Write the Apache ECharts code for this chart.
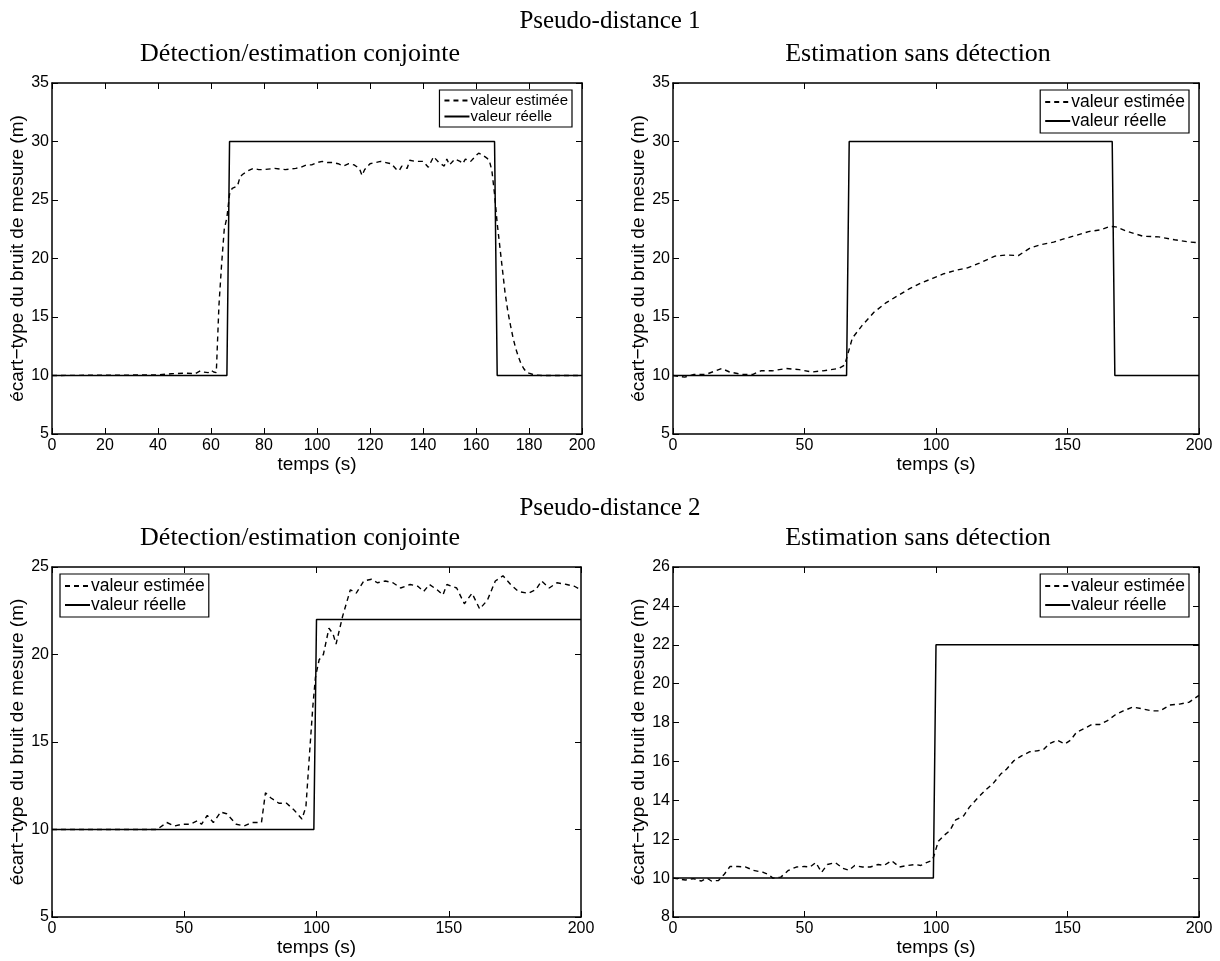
<!DOCTYPE html>
<html>
<head>
<meta charset="utf-8">
<script src="https://cdn.jsdelivr.net/npm/echarts@6/dist/echarts.min.js"></script>
<style>
  html, body { margin: 0; padding: 0; background: #fff; }
  #chart { width: 1220px; height: 961px; }
</style>
</head>
<body>
<div id="chart"></div>
<script>
// Pseudo-distance 1 - détection/estimation conjointe
const p1ConjTemps = [0, 40, 45, 50, 54, 56, 57, 59, 60, 61, 62, 63, 64, 65, 66, 67, 68, 70, 71, 72, 74, 76, 78, 80, 84, 88, 92, 94, 96, 98, 100, 102, 104, 106, 108, 110, 112, 114, 116, 117, 118, 120, 122, 124, 126, 128, 130, 131, 132, 133, 134, 135, 137, 140, 142, 144, 146, 148, 149, 150, 152, 154, 155, 156, 158, 160, 161, 162, 164, 165, 166, 167, 168, 169, 170, 171, 172, 173, 174, 175, 176, 177, 178, 179, 180, 182, 185, 200]
const p1ConjEstimee = [10, 10.05, 10.15, 10.2, 10.15, 10.4, 10.3, 10.25, 10.45, 10.3, 10.25, 16, 19.5, 22.5, 23.5, 25.5, 26, 26.2, 27, 27.2, 27.5, 27.7, 27.6, 27.6, 27.7, 27.6, 27.7, 27.8, 28, 28, 28.2, 28.3, 28.2, 28.2, 28.1, 27.9, 28.1, 28, 27.7, 27.1, 27.6, 28.1, 28.2, 28.3, 28.2, 28.1, 27.6, 27.5, 27.9, 27.8, 27.7, 28.4, 28.3, 28.3, 27.8, 28.7, 28.2, 27.9, 28.5, 28, 28.5, 28.3, 28.1, 28.5, 28.3, 28.8, 29, 28.9, 28.6, 28.4, 27.5, 25.5, 23, 21, 19, 17, 15.5, 14.3, 13.2, 12.3, 11.6, 11, 10.6, 10.3, 10.2, 10.05, 10, 10]
const p1ReelTemps = [0, 66, 67, 167, 168, 200]
const p1ReelValeur = [10, 10, 30, 30, 10, 10]

// Pseudo-distance 1 - estimation sans détection
const p1SansTemps = [0, 4.5, 8, 12.6, 18.5, 21.5, 26, 30.4, 33.4, 37.8, 43, 48, 52.7, 57, 63, 65.3, 66.3, 68.2, 72, 76.4, 80.9, 85.3, 89.8, 94.2, 98.7, 103, 107.6, 112, 116.5, 122.4, 126.9, 131.3, 135.8, 140.2, 144.7, 149, 153.6, 158, 162.5, 166.2, 168.4, 172.9, 178.8, 184.7, 190.7, 196.6, 200]
const p1SansEstimee = [10, 9.86, 10.1, 10.1, 10.6, 10.3, 10.1, 10.1, 10.4, 10.4, 10.6, 10.5, 10.3, 10.4, 10.6, 10.9, 11.7, 13.2, 14.3, 15.4, 16.2, 16.8, 17.4, 17.9, 18.3, 18.7, 19, 19.2, 19.6, 20.2, 20.3, 20.25, 20.9, 21.2, 21.4, 21.7, 22, 22.3, 22.45, 22.75, 22.7, 22.3, 21.9, 21.85, 21.6, 21.4, 21.35]

// Pseudo-distance 2 - détection/estimation conjointe
const p2ConjTemps = [0, 39.7, 43.4, 46.3, 49.2, 52.2, 55, 56.5, 58.7, 61, 63.8, 66, 69.7, 72.6, 75.5, 79.2, 80.7, 82.8, 85.8, 88.7, 91.6, 94.5, 96, 97.4, 98.6, 99.6, 101, 102.6, 104.7, 106.2, 107.4, 109.9, 112.8, 115, 117.9, 120.8, 123, 126, 128.9, 131.8, 135.4, 138.3, 140.5, 142.7, 145.6, 147.8, 149.3, 153, 155.9, 158.8, 161.7, 164.6, 167.6, 170.5, 173.4, 176.3, 180, 182.9, 185.1, 188, 190.9, 194.6, 197.5, 200]
const p2ConjEstimee = [10, 10, 10.4, 10.2, 10.3, 10.3, 10.5, 10.3, 10.8, 10.4, 11, 10.9, 10.3, 10.2, 10.4, 10.4, 12.1, 11.8, 11.5, 11.5, 11.1, 10.6, 11.3, 14.4, 17, 18.7, 19.7, 20, 21.5, 21.2, 20.6, 22.2, 23.7, 23.5, 24.2, 24.3, 24.1, 24.2, 24.1, 23.8, 24, 23.9, 23.6, 24, 23.7, 23.4, 24, 23.8, 22.9, 23.5, 22.6, 23.1, 24.2, 24.5, 24, 23.6, 23.5, 23.7, 24.2, 23.8, 24.1, 24, 23.9, 23.7]
const p2ReelTemps = [0, 99, 100, 200]
const p2ReelValeur = [10, 10, 22, 22]

// Pseudo-distance 2 - estimation sans détection
const p2SansTemps = [0, 4.7, 7.7, 10.7, 12.9, 14.6, 17.3, 19.5, 21.7, 24.7, 27.7, 30.6, 34.3, 36.5, 38, 41, 43.9, 46.9, 49.9, 52.1, 54.3, 56.5, 58.7, 61.7, 64.6, 66.9, 69.1, 72, 75, 78, 80.2, 83.1, 86.1, 89.1, 92, 94.2, 96.4, 98.4, 99.1, 100.9, 103.1, 105.3, 107.5, 110.5, 112.7, 115.7, 118.6, 121.6, 124.6, 126.8, 129.7, 132.7, 135.7, 138.6, 140.8, 143, 146, 149, 151.2, 153.4, 156.4, 159.3, 162.3, 165.2, 168.2, 171.2, 174.9, 178.6, 182.2, 185.2, 188.9, 192.6, 196.3, 200]
const p2SansEstimee = [10, 9.9, 9.97, 9.85, 10, 9.85, 9.88, 10.2, 10.6, 10.6, 10.57, 10.4, 10.3, 10.17, 10, 10.05, 10.4, 10.57, 10.6, 10.57, 10.8, 10.3, 10.7, 10.8, 10.5, 10.4, 10.65, 10.57, 10.57, 10.7, 10.65, 10.9, 10.57, 10.65, 10.7, 10.65, 10.8, 10.9, 11.1, 11.9, 12.2, 12.45, 13, 13.2, 13.65, 14.1, 14.5, 14.85, 15.35, 15.6, 16.05, 16.3, 16.5, 16.55, 16.6, 16.9, 17.1, 16.9, 17.1, 17.5, 17.7, 17.9, 17.9, 18.1, 18.4, 18.6, 18.8, 18.7, 18.6, 18.6, 18.9, 18.95, 19.05, 19.4]

// bornes des axes : min, max, pas
const p1Y = [5, 35, 5]
const p2ConjY = [5, 25, 5]
const p2SansY = [8, 26, 2]

const superTitres = ['Pseudo-distance 1', 'Pseudo-distance 2']
const sousTitres = ['Détection/estimation conjointe', 'Estimation sans détection']
const nomEstimee = 'valeur estimée'
const nomReelle = 'valeur réelle'
const nomAxeX = 'temps (s)'
const nomAxeY = 'écart−type du bruit de mesure (m)'

const zip = (xs, ys) => xs.map((x, i) => [x, ys[i]])

const sans = 'Liberation Sans, Arial, sans-serif'
const serif = 'Liberation Serif, Times New Roman, serif'
const tickFont = { color: '#000', fontFamily: sans, fontSize: 16 }
const nameFont = { color: '#000', fontFamily: sans, fontSize: 19 }

// un panneau = une grille + 4 axes (bas/gauche + miroirs haut/droite)
const panels = [
  { grid: { left: 52, top: 83, width: 530, height: 351 }, xInt: 20, y: p1Y, titreX: 300,
    est: zip(p1ConjTemps, p1ConjEstimee), reel: zip(p1ReelTemps, p1ReelValeur),
    legend: { right: 648, top: 90 }, legendFont: 15 },
  { grid: { left: 673, top: 83, width: 526, height: 351 }, xInt: 50, y: p1Y, titreX: 918,
    est: zip(p1SansTemps, p1SansEstimee), reel: zip(p1ReelTemps, p1ReelValeur),
    legend: { right: 31, top: 90 }, legendFont: 17.5 },
  { grid: { left: 52, top: 567, width: 529, height: 350 }, xInt: 50, y: p2ConjY, titreX: 300,
    est: zip(p2ConjTemps, p2ConjEstimee), reel: zip(p2ReelTemps, p2ReelValeur),
    legend: { left: 60, top: 574 }, legendFont: 17.5 },
  { grid: { left: 673, top: 567, width: 526, height: 350 }, xInt: 50, y: p2SansY, titreX: 918,
    est: zip(p2SansTemps, p2SansEstimee), reel: zip(p2ReelTemps, p2ReelValeur),
    legend: { right: 31, top: 574 }, legendFont: 17.5 }
]

const axisLine = { show: true, onZero: false, lineStyle: { color: '#000', width: 1.5 } }
const axisTick = { show: true, inside: true, length: 6, lineStyle: { color: '#000', width: 1 } }

const grid = []
const xAxis = []
const yAxis = []
const series = []
const legend = []
const title = []

superTitres.forEach((t, i) => {
  title.push({
    text: t, left: 'center', top: i === 0 ? 9 : 496, padding: 0,
    textStyle: { fontFamily: serif, fontSize: 25, fontWeight: 'normal', color: '#000' }
  })
})

panels.forEach((p, i) => {
  grid.push(Object.assign({ containLabel: false }, p.grid))
  title.push({
    text: sousTitres[i % 2], padding: 0,
    left: p.titreX, top: p.grid.top - 42, textAlign: 'center',
    textStyle: { fontFamily: serif, fontSize: 26, fontWeight: 'normal', color: '#000' }
  })
  const xb = { type: 'value', gridIndex: i, min: 0, max: 200, interval: p.xInt,
    axisLine, axisTick, splitLine: { show: false } }
  xAxis.push(Object.assign({}, xb, {
    position: 'bottom', name: nomAxeX, nameLocation: 'middle', nameGap: 19,
    nameTextStyle: nameFont, axisLabel: Object.assign({ margin: 4 }, tickFont)
  }))
  xAxis.push(Object.assign({}, xb, { position: 'top', axisLabel: { show: false } }))
  const yb = { type: 'value', gridIndex: i, min: p.y[0], max: p.y[1], interval: p.y[2],
    axisLine, axisTick, splitLine: { show: false } }
  yAxis.push(Object.assign({}, yb, {
    position: 'left', name: nomAxeY, nameLocation: 'middle', nameGap: 23,
    nameTextStyle: nameFont, axisLabel: Object.assign({ margin: 3 }, tickFont)
  }))
  yAxis.push(Object.assign({}, yb, { position: 'right', axisLabel: { show: false } }))

  series.push({
    name: nomEstimee, type: 'line', xAxisIndex: 2 * i, yAxisIndex: 2 * i,
    data: p.est, symbol: 'none', silent: true, color: '#000',
    lineStyle: { color: '#000', width: 1.4, type: [5, 4] }
  })
  series.push({
    name: nomReelle, type: 'line', xAxisIndex: 2 * i, yAxisIndex: 2 * i,
    data: p.reel, symbol: 'none', silent: true, color: '#000',
    lineStyle: { color: '#000', width: 1.5, type: 'solid' }
  })

  // légende encadrée, trait seul (pas de symbole)
  legend.push(Object.assign({
    data: [nomEstimee, nomReelle], orient: 'vertical',
    borderColor: '#000', borderWidth: 1.2, borderRadius: 0, backgroundColor: '#fff',
    padding: [3, 4, 3, 4], itemGap: 1, itemWidth: 25, itemHeight: 14,
    selectedMode: false,
    itemStyle: { opacity: 0 },
    textStyle: { color: '#000', fontFamily: sans, fontSize: p.legendFont, padding: [0, 0, 0, -4] }
  }, p.legend))
})

const chart = echarts.init(document.getElementById('chart'), null, { renderer: 'canvas' })
chart.setOption({
  backgroundColor: '#fff',
  animation: false,
  title,
  grid,
  xAxis,
  yAxis,
  legend,
  tooltip: { show: false },
  series
})
</script>
</body>
</html>
